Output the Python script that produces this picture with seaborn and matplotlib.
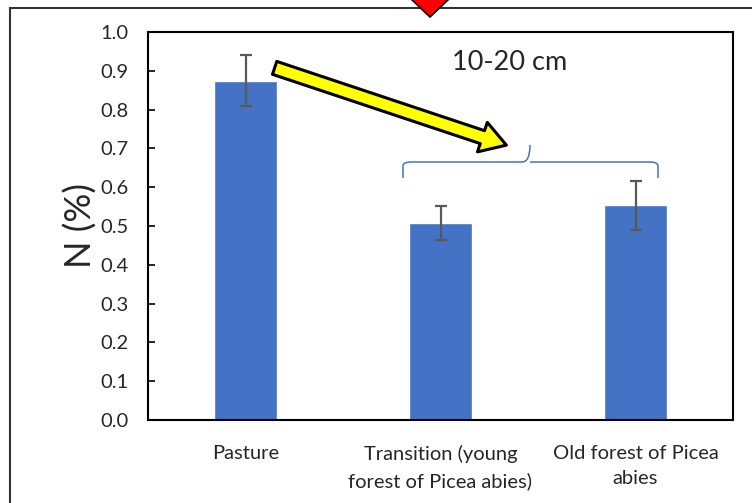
import numpy as np
import pandas as pd
import seaborn as sns
import matplotlib
matplotlib.use("Agg")
import matplotlib.pyplot as plt
from matplotlib.patches import Rectangle, Polygon, FancyArrowPatch, PathPatch
from matplotlib.path import Path

# ---- data ----
categories = ["Pasture", "Transition (young\nforest of Picea abies)", "Old forest of Picea\nabies"]
n_values = [0.874, 0.508, 0.553]
n_errors = [0.066, 0.043, 0.063]
y_ticks = [0.0, 0.1, 0.2, 0.3, 0.4, 0.5, 0.6, 0.7, 0.8, 0.9, 1.0]
depth_label = "10-20 cm"

sns.set_theme(style="white")
plt.rcParams["font.family"] = ["Lato", "DejaVu Sans"]

W, H = 752, 503
fig = plt.figure(figsize=(W / 100, H / 100), dpi=100)
ax = fig.add_axes([148 / W, 1 - 420 / H, (733 - 148) / W, (420 - 32) / H])

df = pd.DataFrame({"cat": categories, "N": n_values})
sns.barplot(data=df, x="cat", y="N", color="#4472C4", saturation=1, width=0.32, ax=ax, errorbar=None)
ax.errorbar(np.arange(len(categories)), n_values, yerr=n_errors, fmt="none",
            ecolor="#595959", elinewidth=1.6, capsize=4.5, capthick=1.6)

ax.set_xlim(-0.5, len(categories) - 0.5)
ax.set_ylim(0, 1.0)
ax.set_yticks(y_ticks)
ax.set_yticklabels([f"{t:.1f}" for t in y_ticks], fontsize=14.5)
ax.tick_params(axis="y", direction="in", length=5, width=1.2, color="black", pad=14, left=True)
ax.tick_params(axis="x", length=0, pad=18, labelsize=14.5)
for lab in ax.get_xticklabels():
    lab.set_linespacing(1.6)
ax.set_xlabel("")
ax.set_ylabel("N (%)", fontsize=26, labelpad=2)
for s in ax.spines.values():
    s.set_visible(True)
    s.set_color("black")
    s.set_linewidth(1.5)

# depth label
fig.text(510 / W, 1 - 62 / H, depth_label, fontsize=19.5, ha="center", va="center")

# brace over the forest bars
def px(x, y):
    return (x / W, 1 - y / H)

xl, xr, xt = 403, 658, 530
yb, yh, ytip = 178, 162, 145
verts = [px(xl, yb), px(xl, yh + 4), px(xl, yh), px(xl + 8, yh),
         px(xt - 8, yh), px(xt, yh), px(xt, ytip),
         px(xt, yh), px(xt + 8, yh),
         px(xr - 8, yh), px(xr, yh), px(xr, yh + 4), px(xr, yb)]
codes = [Path.MOVETO, Path.LINETO, Path.CURVE3, Path.CURVE3,
         Path.LINETO, Path.CURVE3, Path.CURVE3,
         Path.MOVETO, Path.LINETO,
         Path.LINETO, Path.CURVE3, Path.CURVE3, Path.LINETO]
fig.patches.append(PathPatch(Path(verts, codes), transform=fig.transFigure,
                             facecolor="none", edgecolor="#4472C4", lw=1.1))

# yellow arrow
arrow = FancyArrowPatch(px(272, 67), px(509, 146), transform=fig.transFigure,
                        arrowstyle="simple,head_width=1.6,head_length=1.3,tail_width=0.7",
                        mutation_scale=14, facecolor="#FFFF00", edgecolor="black", lw=2.2)
fig.patches.append(arrow)

# outer frame
fig.patches.append(Rectangle(px(10, 520), 2.0, (520 - 8) / H, transform=fig.transFigure,
                             facecolor="none", edgecolor="#333333", lw=1.5))
# red marker at top
fig.patches.append(Polygon([px(410, -2), px(450, -2), px(430, 17)], closed=True,
                           transform=fig.transFigure, facecolor="#FF0000",
                           edgecolor="black", lw=1.2))

fig.savefig("out.png", dpi=100)
